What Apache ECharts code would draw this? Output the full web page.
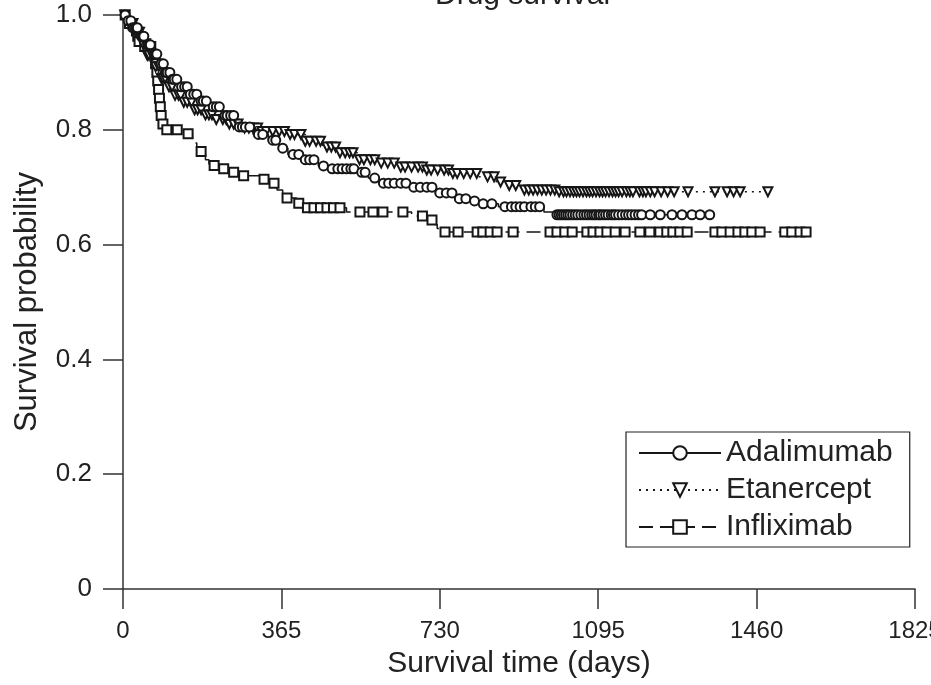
<!DOCTYPE html>
<html>
<head>
<meta charset="utf-8">
<script src="https://cdn.jsdelivr.net/npm/echarts@6/dist/echarts.min.js"></script>
<style>html,body{margin:0;padding:0;background:#fff}#c{width:931px;height:685px}</style>
</head>
<body>
<div id="c"></div>
<script>
// ---- data ----
const xTicks = [0, 365, 730, 1095, 1460, 1825];
const yTicks = [0, 0.2, 0.4, 0.6, 0.8, 1.0];
const seriesNames = ['Adalimumab', 'Etanercept', 'Infliximab'];

// Adalimumab: event times (days) and survival after each event
const adaEventT = [0, 8, 20, 35, 50, 65, 80, 95, 110, 130, 150, 175, 200, 230, 260, 300, 335, 360, 380, 410, 450, 475, 540, 565, 590, 660, 720, 765, 800, 820, 865, 970, 990];
const adaEventS = [1.0, 0.99, 0.978, 0.963, 0.948, 0.932, 0.915, 0.9, 0.888, 0.875, 0.862, 0.85, 0.84, 0.825, 0.805, 0.792, 0.782, 0.768, 0.757, 0.748, 0.737, 0.732, 0.726, 0.716, 0.707, 0.70, 0.69, 0.68, 0.676, 0.671, 0.666, 0.657, 0.652];
const adaCensorT = [5, 12, 18, 22, 26, 30, 33, 42, 45, 48, 57, 60, 63, 72, 75, 78, 88, 93, 98, 102, 108, 114, 118, 124, 135, 142, 148, 155, 163, 170, 180, 185, 192, 208, 215, 222, 235, 240, 248, 255, 268, 275, 282, 292, 312, 322, 345, 352, 368, 392, 405, 420, 430, 440, 462, 482, 495, 505, 515, 525, 532, 550, 558, 580, 600, 612, 625, 640, 652, 670, 685, 700, 712, 730, 745, 758, 775, 790, 810, 830, 850, 880, 895, 905, 915, 925, 940, 950, 960, 1000, 1005, 1010, 1015, 1020, 1025, 1030, 1036, 1042, 1048, 1055, 1062, 1068, 1074, 1080, 1085, 1090, 1096, 1100, 1106, 1112, 1118, 1125, 1130, 1135, 1142, 1150, 1158, 1165, 1172, 1180, 1188, 1195, 1215, 1238, 1265, 1288, 1311, 1330, 1352];

// Etanercept
const etaEventT = [0, 10, 25, 40, 55, 70, 85, 100, 120, 140, 165, 190, 215, 245, 280, 320, 380, 420, 460, 500, 540, 590, 640, 700, 760, 820, 860, 890, 925, 1000];
const etaEventS = [1.0, 0.985, 0.97, 0.95, 0.93, 0.91, 0.89, 0.875, 0.86, 0.848, 0.835, 0.826, 0.818, 0.81, 0.803, 0.797, 0.792, 0.78, 0.77, 0.76, 0.748, 0.742, 0.735, 0.73, 0.724, 0.718, 0.709, 0.703, 0.695, 0.692];
const etaCensorT = [4, 16, 20, 23, 30, 34, 38, 46, 52, 56, 60, 67, 75, 82, 88, 92, 97, 106, 113, 120, 128, 133, 140, 148, 158, 165, 172, 180, 190, 198, 205, 215, 230, 238, 245, 255, 265, 280, 290, 300, 310, 320, 330, 345, 360, 372, 385, 395, 410, 420, 430, 445, 455, 470, 480, 490, 500, 512, 522, 530, 545, 555, 570, 580, 595, 610, 625, 640, 650, 665, 680, 690, 700, 710, 725, 740, 750, 760, 770, 785, 800, 815, 840, 855, 870, 890, 905, 925, 935, 945, 955, 965, 975, 985, 995, 1005, 1015, 1022, 1030, 1038, 1045, 1052, 1060, 1068, 1075, 1082, 1090, 1098, 1105, 1112, 1120, 1128, 1135, 1142, 1150, 1160, 1168, 1175, 1190, 1198, 1205, 1215, 1225, 1240, 1255, 1270, 1302, 1364, 1392, 1407, 1422, 1486];

// Infliximab
const infEventT = [0, 10, 25, 30, 33, 36, 39, 70, 74, 77, 79, 81, 83, 85, 87, 90, 95, 140, 160, 170, 190, 198, 228, 250, 272, 320, 345, 355, 368, 400, 410, 515, 665, 705, 718, 724, 732];
const infEventS = [1.0, 0.985, 0.978, 0.972, 0.963, 0.954, 0.945, 0.928, 0.915, 0.90, 0.885, 0.87, 0.855, 0.84, 0.825, 0.81, 0.80, 0.793, 0.777, 0.762, 0.748, 0.738, 0.732, 0.726, 0.72, 0.714, 0.707, 0.695, 0.681, 0.672, 0.664, 0.657, 0.65, 0.643, 0.635, 0.628, 0.622];
const infCensorT = [5, 15, 31, 34, 37, 50, 58, 64, 75, 78, 80, 82, 84, 86, 88, 92, 101, 125, 150, 180, 210, 232, 255, 278, 325, 348, 378, 405, 425, 440, 455, 470, 485, 500, 546, 576, 599, 645, 690, 712, 742, 772, 816, 829, 846, 862, 899, 984, 1000, 1018, 1035, 1069, 1083, 1099, 1115, 1134, 1157, 1191, 1214, 1237, 1253, 1267, 1283, 1300, 1364, 1380, 1399, 1417, 1433, 1449, 1468, 1525, 1541, 1560, 1574];

// ---- build KM data: events without symbols, censorings with symbols ----
function buildKM(evT, evS, cenT) {
  const pts = [];
  evT.forEach((t, i) => pts.push({ value: [t, evS[i]], ev: 1 }));
  cenT.forEach(t => {
    let s = 1;
    for (let i = 0; i < evT.length; i++) if (evT[i] <= t) s = evS[i];
    pts.push({ value: [t, s], ev: 0 });
  });
  pts.sort((a, b) => (a.value[0] - b.value[0]) || (b.ev - a.ev));
  return pts.map(p => p.ev ? { value: p.value, symbol: 'none' } : { value: p.value });
}

const FONT = 'Liberation Sans';
const INK = '#161616';

const chart = echarts.init(document.getElementById('c'), null, { renderer: 'canvas' });

function mkSeries(name, data, symbol, rotate, dash, z) {
  return {
    name, type: 'line', step: 'end', data,
    symbol, symbolSize: 9, symbolRotate: rotate, showAllSymbol: true,
    lineStyle: { color: INK, width: 1.5, type: dash },
    itemStyle: { color: INK, borderWidth: 1.8 },
    emphasis: { disabled: true }, z, animation: false
  };
}

chart.setOption({
  animation: false,
  backgroundColor: '#fff',
  title: {
    text: 'Drug survival', left: 430, top: -24,
    textStyle: { fontFamily: FONT, fontSize: 30, fontWeight: 'normal', color: '#222' }
  },
  grid: { left: 123, right: 16, top: 15, bottom: 96, containLabel: false, outerBoundsMode: 'none' },
  legend: {
    data: seriesNames, orient: 'vertical', left: 626, top: 432,
    padding: [6, 17, 5, 12], itemWidth: 82, itemHeight: 17, itemGap: 7,
    borderColor: '#222', borderWidth: 1.2, backgroundColor: '#fff',
    textStyle: { fontFamily: FONT, fontSize: 30, color: '#222' },
    selectedMode: false
  },
  xAxis: {
    type: 'value', min: xTicks[0], max: xTicks[xTicks.length - 1], interval: 365,
    name: 'Survival time (days)', nameLocation: 'middle', nameGap: 60,
    nameTextStyle: { fontFamily: FONT, fontSize: 30, color: '#222' },
    axisLine: { show: true, lineStyle: { color: '#333', width: 1.5 } },
    axisTick: { show: true, length: 20, lineStyle: { color: '#333', width: 1.5 } },
    axisLabel: { margin: 30, fontFamily: FONT, fontSize: 24, color: '#222', showMaxLabel: true,
      formatter: v => String(v) },
    splitLine: { show: false }
  },
  yAxis: {
    type: 'value', min: yTicks[0], max: yTicks[yTicks.length - 1], interval: 0.2,
    name: 'Survival probability', nameLocation: 'middle', nameGap: 80,
    nameTextStyle: { fontFamily: FONT, fontSize: 31, color: '#222' },
    axisLine: { show: true, lineStyle: { color: '#333', width: 1.5 } },
    axisTick: { show: true, length: 20, lineStyle: { color: '#333', width: 1.5 } },
    axisLabel: {
      margin: 31, fontFamily: FONT, fontSize: 26, color: '#222',
      formatter: v => (v === 0 ? '0' : v.toFixed(1))
    },
    splitLine: { show: false }
  },
  series: [
    mkSeries('Infliximab', buildKM(infEventT, infEventS, infCensorT), 'emptyRect', 0, [14, 7], 2),
    mkSeries('Etanercept', buildKM(etaEventT, etaEventS, etaCensorT), 'emptyTriangle', 180, [2, 5], 3),
    mkSeries('Adalimumab', buildKM(adaEventT, adaEventS, adaCensorT), 'emptyCircle', 0, 'solid', 4)
  ]
});
</script>
</body>
</html>
